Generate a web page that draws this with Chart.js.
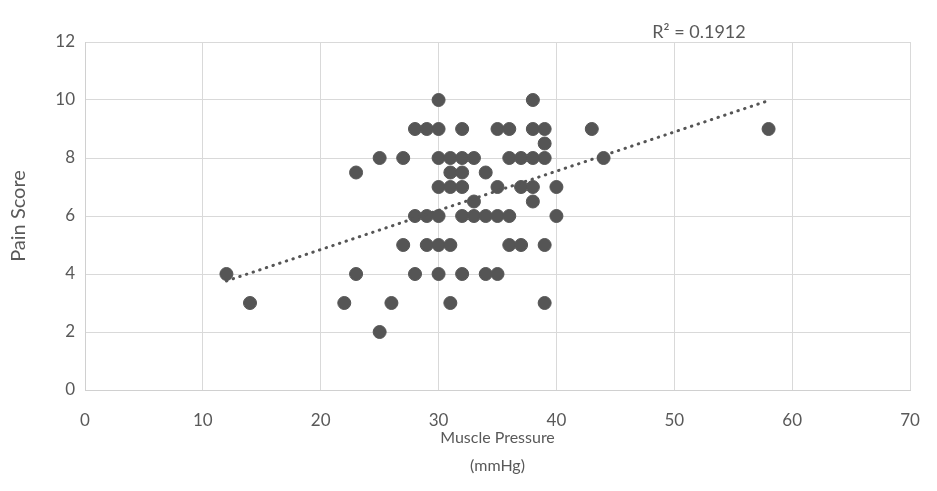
<!DOCTYPE html>
<html>
<head>
<meta charset="utf-8">
<script src="https://cdn.jsdelivr.net/npm/chart.js@4/dist/chart.umd.min.js"></script>
<style>
html,body{margin:0;padding:0;background:#fff;}
#wrap{width:937px;height:491px;position:relative;}
</style>
</head>
<body>
<div id="wrap"><canvas id="c" width="937" height="491"></canvas></div>
<script>
// Data
const musclePressure = [12,14,22,23,23,25,25,26,27,27,28,28,28,29,29,29,30,30,30,30,30,30,30,31,31,31,31,31,32,32,32,32,32,32,33,33,33,34,34,34,35,35,35,35,36,36,36,36,37,37,37,38,38,38,38,38,39,39,39,39,39,40,40,43,44,58];
const painScore     = [4,3,3,7.5,4,8,2,3,8,5,9,6,4,9,6,5,10,9,8,7,6,5,4,8,7.5,7,5,3,9,8,7.5,7,6,4,8,6.5,6,7.5,6,4,9,7,6,4,9,8,6,5,8,7,5,10,9,8,7,6.5,9,8.5,8,5,3,7,6,9,8,9];
const trendX = [12, 58];
const trendY = [3.76, 9.98];
const xTicks = [0,10,20,30,40,50,60,70];
const yTicks = [0,2,4,6,8,10,12];
const rSquaredLabel = 'R² = 0.1912';

const textColor = '#595959';
const fontFamily = 'Lato, "Open Sans", sans-serif';

const points = musclePressure.map((x,i)=>({x:x,y:painScore[i]}));
const trend = trendX.map((x,i)=>({x:x,y:trendY[i]}));

const r2Plugin = {
  id:'r2',
  afterDraw(chart){
    const ctx = chart.ctx;
    const xs = chart.scales.x;
    ctx.save();
    ctx.fillStyle = textColor;
    ctx.font = '18px ' + fontFamily;
    ctx.textAlign = 'center';
    ctx.textBaseline = 'middle';
    ctx.fillText(rSquaredLabel, xs.getPixelForValue(52.1), chart.chartArea.top - 10);
    ctx.restore();
  }
};

new Chart(document.getElementById('c'), {
  type:'scatter',
  data:{
    datasets:[
      {label:'Pain Score', data:points, backgroundColor:'#555555', borderColor:'#555555', pointRadius:6.5, pointHoverRadius:6.5, order:1},
      {label:'Trend', data:trend, showLine:true, pointRadius:0, borderColor:'#555555', borderWidth:3, borderDash:[0.5,6.5], borderCapStyle:'round', fill:false, order:0}
    ]
  },
  options:{
    responsive:false,
    animation:false,
    layout:{padding:{left:0,right:27,top:42,bottom:0}},
    plugins:{legend:{display:false}, tooltip:{enabled:false}},
    scales:{
      x:{
        type:'linear', min:0, max:70,
        afterBuildTicks(s){ s.ticks = xTicks.map(v=>({value:v})); },
        afterFit(s){ s.height = 101; },
        grid:{color:'#d9d9d9', drawTicks:true, tickLength:17, tickColor:'rgba(0,0,0,0)', lineWidth:1},
        border:{color:'#d0d0d0'},
        ticks:{color:textColor, font:{family:fontFamily, size:17}, padding:3, maxRotation:0},
        title:{display:true, text:['Muscle Pressure','(mmHg)'], color:textColor, font:{family:fontFamily, size:16, lineHeight:1.75}, padding:{top:0,bottom:11}}
      },
      y:{
        type:'linear', min:0, max:12,
        afterBuildTicks(s){ s.ticks = yTicks.map(v=>({value:v})); },
        afterFit(s){ s.width = 85; },
        grid:{color:'#d9d9d9', drawTicks:false, lineWidth:1},
        border:{color:'#d0d0d0'},
        ticks:{color:textColor, font:{family:fontFamily, size:17}, padding:10},
        title:{display:true, text:'Pain Score', color:textColor, font:{family:fontFamily, size:20, lineHeight:1.2}, padding:{top:7,bottom:0}}
      }
    }
  },
  plugins:[r2Plugin]
});
</script>
</body>
</html>
